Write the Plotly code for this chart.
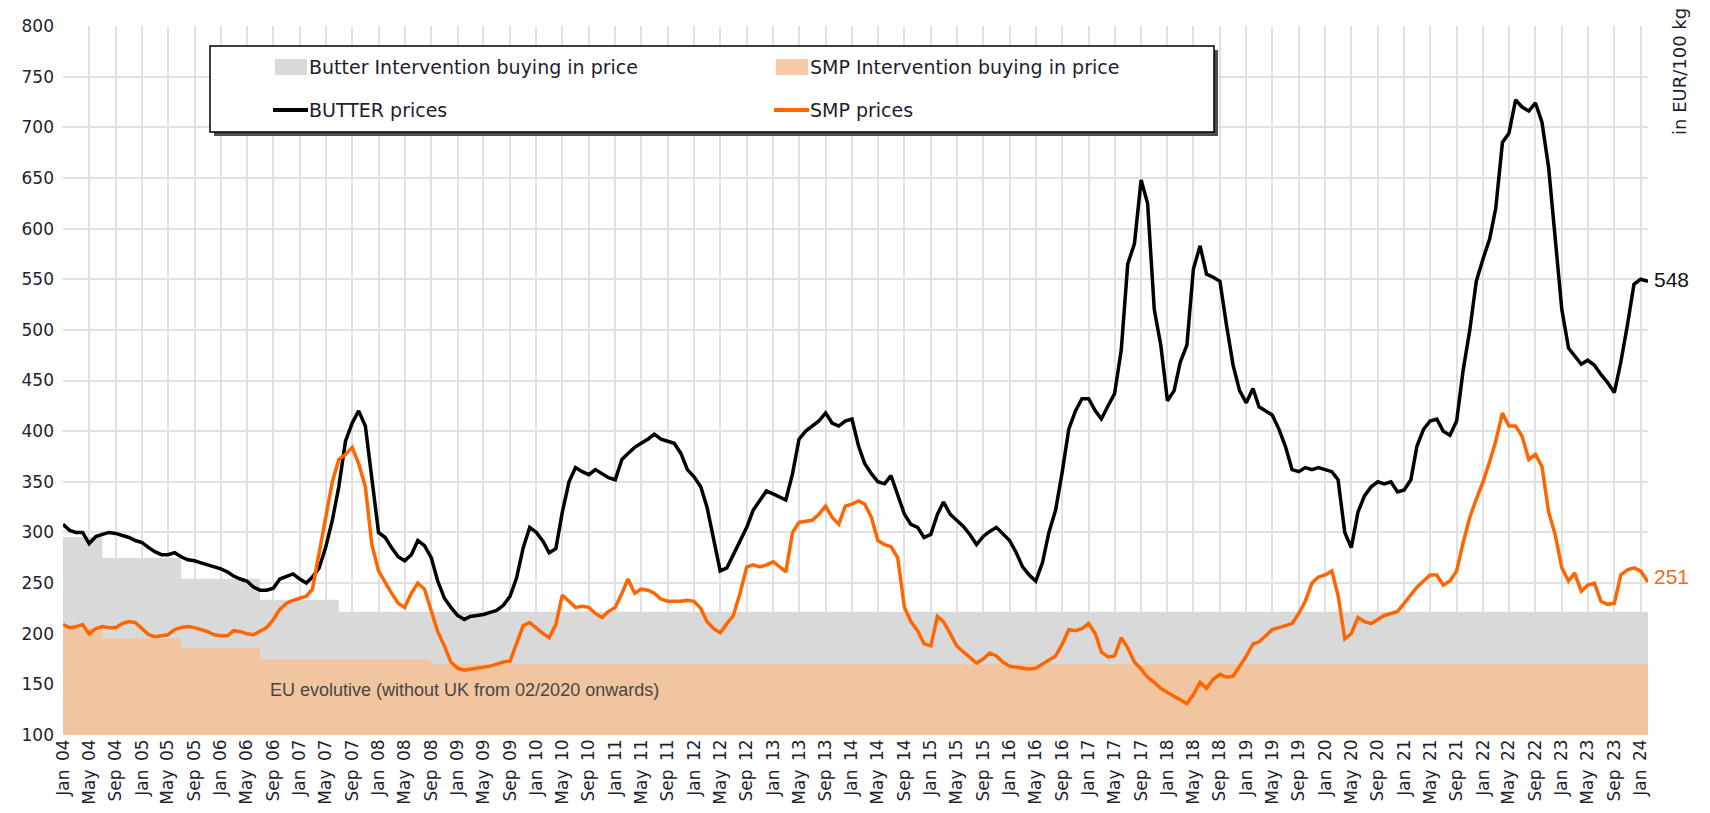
import pandas as pd
import plotly.graph_objects as go

# ---------------- data ----------------
month_dates = list(pd.date_range("2004-01-01", "2024-01-01", freq="MS").strftime("%Y-%m-%d")) + ["2024-02-04"]

butter_prices = [
    308, 302, 300, 300, 289, 296, 298, 300, 299, 297, 295, 292,   # 2004
    290, 285, 281, 278, 278, 280, 276, 273, 272, 270, 268, 266,   # 2005
    264, 261, 257, 254, 252, 246, 243, 243, 245, 254, 257, 259,   # 2006
    254, 250, 256, 265, 285, 312, 345, 390, 408, 420, 405, 350,   # 2007
    300, 295, 285, 276, 272, 278, 292, 287, 275, 252, 235, 226,   # 2008
    218, 214, 217, 218, 219, 221, 223, 228, 237, 255, 285, 305,   # 2009
    300, 291, 280, 284, 320, 350, 364, 360, 357, 362, 358, 354,   # 2010
    352, 372, 378, 384, 388, 392, 397, 392, 390, 388, 378, 362,   # 2011
    355, 345, 325, 295, 262, 265, 278, 290, 305, 322, 332, 341,   # 2012
    338, 335, 332, 358, 392, 400, 405, 410, 418, 408, 405, 410,   # 2013
    412, 385, 368, 358, 350, 348, 356, 338, 318, 308, 305, 295,   # 2014
    298, 318, 330, 318, 312, 306, 298, 288, 296, 301, 305, 298,   # 2015
    292, 280, 266, 258, 252, 270, 300, 322, 360, 402, 420, 432,   # 2016
    432, 420, 412, 425, 437, 480, 565, 585, 648, 625, 520, 485,   # 2017
    430, 440, 468, 485, 560, 583, 555, 552, 548, 505, 465, 440,   # 2018
    428, 442, 424, 420, 416, 402, 385, 362, 360, 364, 362, 364,   # 2019
    362, 360, 352, 300, 285, 320, 336, 345, 350, 348, 350, 340,   # 2020
    342, 352, 385, 402, 410, 412, 400, 396, 410, 460, 500, 548,   # 2021
    570, 590, 620, 685, 694, 727, 720, 716, 724, 705, 660, 590,   # 2022
    520, 482, 475, 466, 470, 465, 456, 448, 438, 468, 505, 545,   # 2023
    550, 548,                                                     # 2024
]

smp_prices = [
    209, 206, 207, 209, 200, 205, 207, 206, 206, 210, 212, 211,   # 2004
    205, 199, 197, 198, 199, 204, 206, 207, 206, 204, 202, 199,   # 2005
    198, 198, 203, 202, 200, 199, 202, 206, 214, 224, 230, 233,   # 2006
    235, 237, 244, 280, 312, 350, 372, 377, 384, 368, 345, 288,   # 2007
    262, 250, 240, 230, 226, 240, 250, 244, 222, 202, 188, 172,   # 2008
    166, 164, 165, 166, 167, 168, 170, 172, 173, 190, 208, 211,   # 2009
    205, 200, 196, 209, 238, 232, 226, 227, 226, 220, 216, 222,   # 2010
    226, 240, 254, 240, 244, 243, 240, 234, 232, 232, 232, 233,   # 2011
    232, 225, 212, 205, 201, 210, 218, 240, 266, 268, 266, 268,   # 2012
    271, 266, 261, 300, 310, 311, 312, 318, 326, 315, 308, 326,   # 2013
    328, 331, 328, 315, 292, 288, 286, 275, 226, 212, 203, 190,   # 2014
    188, 217, 212, 200, 188, 182, 176, 171, 175, 181, 178, 172,   # 2015
    168, 167, 166, 165, 166, 170, 174, 178, 190, 204, 203, 205,   # 2016
    210, 200, 182, 177, 178, 196, 186, 172, 165, 157, 152, 146,   # 2017
    142, 138, 134, 131, 140, 152, 146, 155, 160, 157, 158, 168,   # 2018
    178, 190, 192, 198, 204, 206, 208, 210, 220, 232, 250, 256,   # 2019
    258, 262, 238, 195, 200, 216, 212, 210, 214, 218, 220, 222,   # 2020
    230, 239, 246, 252, 258, 258, 248, 252, 262, 290, 315, 333,   # 2021
    350, 370, 390, 418, 405, 405, 395, 372, 377, 365, 320, 298,   # 2022
    265, 252, 260, 242, 248, 250, 232, 229, 230, 258, 263, 265,   # 2023
    262, 251,                                                     # 2024
]

butter_interv_dates = ["2004-01-01", "2004-07-01", "2005-07-01", "2006-07-01", "2007-07-01", "2024-02-04"]
butter_interv_price = [295.38, 274.71, 254.20, 233.57, 221.75, 221.75]

smp_interv_dates = ["2004-01-01", "2004-07-01", "2005-07-01", "2006-07-01", "2008-09-01", "2024-02-04"]
smp_interv_price = [205.52, 195.24, 185.88, 174.69, 169.80, 169.80]

tick_dates = list(pd.date_range("2004-01-01", "2024-01-01", freq="4MS").strftime("%Y-%m-%d"))
tick_labels = [f"{m}\u2002{y:02d}" for y in range(4, 24) for m in ("Jan", "May", "Sep")] + ["Jan\u200224"]

# ---------------- styling ----------------
GRID = "#e1e1e1"
TXT = "#1e1e30"
BUTTER_FILL = "#d9d9d9"
SMP_FILL = "#f1c59f"
SMP_LINE = "#ff6600"

# pixel geometry helpers (plot area: x 63..1648, y 26..735)
L, R, T, B = 63, 62, 26, 78
W, H = 1710, 813
PW, PH = W - L - R, H - T - B


def px(x):
    return (x - L) / PW


def py(y):
    return (H - B - y) / PH


fig = go.Figure()
fig.add_trace(go.Scatter(x=butter_interv_dates, y=butter_interv_price, mode="lines",
                         line=dict(shape="hv", width=0, color=BUTTER_FILL),
                         fill="tozeroy", fillcolor=BUTTER_FILL,
                         name="Butter Intervention buying in price", showlegend=False))
fig.add_trace(go.Scatter(x=smp_interv_dates, y=smp_interv_price, mode="lines",
                         line=dict(shape="hv", width=0, color=SMP_FILL),
                         fill="tozeroy", fillcolor=SMP_FILL,
                         name="SMP Intervention buying in price", showlegend=False))
fig.add_trace(go.Scatter(x=month_dates, y=butter_prices, mode="lines",
                         line=dict(color="#000000", width=3.5),
                         name="BUTTER prices", showlegend=False))
fig.add_trace(go.Scatter(x=month_dates, y=smp_prices, mode="lines",
                         line=dict(color=SMP_LINE, width=3.5),
                         name="SMP prices", showlegend=False))

shapes = []
annotations = []

# legend box with shadow
bx0, by0, bx1, by1 = 210, 46, 1214, 132
shapes.append(dict(type="rect", xref="paper", yref="paper",
                   x0=px(bx0 + 4), x1=px(bx1 + 4), y0=py(by1 + 4), y1=py(by0 + 4),
                   line=dict(width=0), fillcolor="#4d4d4d"))
shapes.append(dict(type="rect", xref="paper", yref="paper",
                   x0=px(bx0), x1=px(bx1), y0=py(by1), y1=py(by0),
                   line=dict(width=1.5, color="#000000"), fillcolor="#ffffff"))

legend_items = [
    ("Butter Intervention buying in price", "area", BUTTER_FILL, 273, 67),
    ("SMP Intervention buying in price", "area", "#f8caa6", 774, 67),
    ("BUTTER prices", "line", "#000000", 273, 110),
    ("SMP prices", "line", SMP_LINE, 774, 110),
]
for label, kind, color, x0, yc in legend_items:
    if kind == "area":
        shapes.append(dict(type="rect", xref="paper", yref="paper",
                           x0=px(x0 + 2), x1=px(x0 + 34), y0=py(yc + 8), y1=py(yc - 8),
                           line=dict(width=0), fillcolor=color))
    else:
        shapes.append(dict(type="line", xref="paper", yref="paper",
                           x0=px(x0), x1=px(x0 + 35), y0=py(yc), y1=py(yc),
                           line=dict(width=4, color=color)))
    annotations.append(dict(xref="paper", yref="paper", x=px(x0 + 34), y=py(yc),
                            xanchor="left", yanchor="middle", showarrow=False,
                            text=label, font=dict(family="DejaVu Sans", size=19, color=TXT)))

annotations.append(dict(xref="paper", yref="paper", x=px(464), y=py(690),
                        xanchor="center", yanchor="middle", showarrow=False,
                        text="EU evolutive (without UK from 02/2020 onwards)",
                        font=dict(family="Liberation Sans", size=18, color="#454545")))
annotations.append(dict(xref="paper", yref="paper", x=px(1679), y=py(71),
                        xanchor="center", yanchor="middle", showarrow=False, textangle=-90,
                        text="in EUR/100 kg",
                        font=dict(family="DejaVu Sans", size=18, color=TXT)))
annotations.append(dict(x=month_dates[-1], y=butter_prices[-1], xanchor="left", yanchor="middle",
                        xshift=4, yshift=2, showarrow=False, text=str(butter_prices[-1]),
                        font=dict(family="Liberation Sans", size=21, color="#111111")))
annotations.append(dict(x=month_dates[-1], y=smp_prices[-1], xanchor="left", yanchor="middle",
                        xshift=4, yshift=6, showarrow=False, text=str(smp_prices[-1]),
                        font=dict(family="Liberation Sans", size=21, color="#f06a1c")))

fig.update_layout(
    width=W, height=H,
    margin=dict(l=L, r=R, t=T, b=B),
    paper_bgcolor="#ffffff", plot_bgcolor="#ffffff",
    showlegend=False,
    shapes=shapes, annotations=annotations,
    xaxis=dict(type="date", range=["2004-01-01", "2024-02-04"],
               tickmode="array", tickvals=tick_dates, ticktext=tick_labels,
               tickangle=-90, showgrid=True, gridcolor=GRID, gridwidth=2,
               zeroline=False, showline=False, ticks="", automargin=False,
               tickfont=dict(family="DejaVu Sans", size=17, color=TXT)),
    yaxis=dict(range=[100, 800], dtick=50, tick0=100, showgrid=True, gridcolor=GRID, gridwidth=2,
               zeroline=False, showline=False, ticks="", ticklabelstandoff=8, automargin=False,
               tickfont=dict(family="DejaVu Sans", size=17, color=TXT)),
)

fig.write_html("out.html", config={"displayModeBar": False},
               post_script="document.body.style.margin='0';")
